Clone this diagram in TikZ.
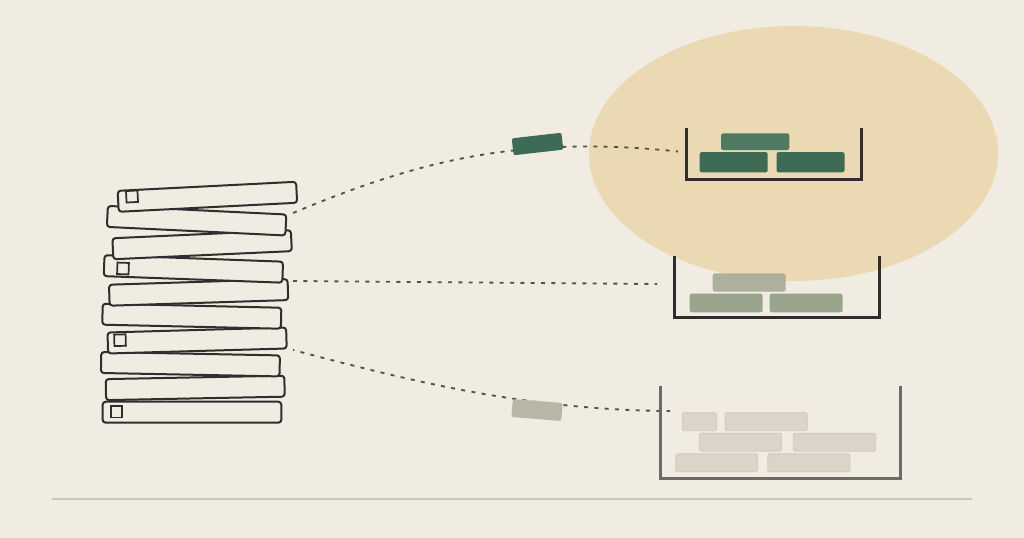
\documentclass[tikz,border=0pt]{standalone}
\usetikzlibrary{calc}
\definecolor{bg}{HTML}{F0ECE2}
\definecolor{sun}{HTML}{EBD9B4}
\definecolor{ink}{HTML}{2E2E2E}
\definecolor{dots}{HTML}{55524D}
\definecolor{gdark}{HTML}{3D6B55}
\definecolor{glight}{HTML}{4E7A62}
\definecolor{sagetop}{HTML}{ADB09C}
\definecolor{sage}{HTML}{9AA38B}
\definecolor{ghost}{HTML}{DAD5C9}
\definecolor{ghostline}{HTML}{D0CABD}
\definecolor{stone}{HTML}{B9B5A7}
\definecolor{wallgray}{HTML}{6B6A66}
\definecolor{rule}{HTML}{CBC6BA}
\tikzset{
  plank/.style={draw=ink, fill=bg, line width=1.5pt, rounded corners=2.25pt,
    minimum width=134pt, minimum height=15.75pt, inner sep=0pt, outer sep=0pt},
  tag/.style={draw=ink, line width=1.3pt, minimum size=8.6pt, inner sep=0pt},
  brick/.style={rounded corners=1.6pt, inner sep=0pt, outer sep=0pt},
  flow/.style={draw=dots, line width=1.4pt, dash pattern=on 3pt off 4.75pt},
  binwall/.style={draw=ink, line width=2.25pt},
}
\begin{document}
\begin{tikzpicture}[x=0.75pt,y=-0.75pt]
\fill[bg] (0,0) rectangle (1024,538);
\useasboundingbox (0,0) rectangle (1024,538);
% big circle
\fill[sun] (793.5,153.5) ellipse [x radius=204.5, y radius=127.5];
% baseline
\draw[rule, line width=1.1pt] (52,499) -- (972,499);

% stack of planks (bottom first)
\node[plank, rotate=0]    (p10) at (192,412.2) {};
\node[plank, rotate=1.1]  (p9)  at (195.2,387.9) {};
\node[plank, rotate=-1.1] (p8)  at (190.4,364.2) {};
\node[plank, rotate=1.6]  (p7)  at (197.1,340.5) {};
\node[plank, rotate=-1.3] (p6)  at (191.8,316.2) {};
\node[plank, rotate=1.8]  (p5)  at (198.6,292.4) {};
\node[plank, rotate=-2.1] (p4)  at (193.4,268.9) {};
\node[plank, rotate=2.6]  (p3)  at (202.1,244.7) {};
\node[plank, rotate=-2.75](p2)  at (196.6,220.7) {};
\node[plank, rotate=2.9]  (p1)  at (207.4,196.8) {};
\node[tag, rotate=2.9]  (t1)  at (132,196.5) {};
\node[tag, rotate=-2.1] (t4)  at (123,268.5) {};
\node[tag, rotate=1.6]  (t7)  at (120,340.2) {};
\node[tag, rotate=0]    (t10) at (116.5,411.8) {};

% connectors
\coordinate (s1) at (293,213);
\coordinate (e1) at (678,151.5);
\coordinate (s2) at (293,281);
\coordinate (e2) at (657,284);
\coordinate (s3) at (293,350);
\coordinate (e3) at (670,411);
\draw[flow] (s1) .. controls (420,160) and (520,135) .. (e1);
\draw[flow] (s2) -- (e2);
\draw[flow, dash phase=2pt] (s3) .. controls (400,378) and (520,410) .. (e3);

% bricks in transit
\node[brick, fill=gdark, minimum width=37.5pt, minimum height=12.75pt, rotate=6.5] (m1) at (537.5,144) {};
\node[brick, fill=stone, minimum width=37.5pt, minimum height=13.5pt, rotate=-4.5] (m3) at (537,410) {};

% bin 1 (highlighted)
\draw[binwall] (686.7,128.3) -- (686.7,180) -- (861.7,180) -- (861.7,128.3);
\node[brick, fill=glight, minimum width=51.2pt, minimum height=12.5pt] (a1) at (755.2,141.7) {};
\node[brick, fill=gdark, minimum width=51pt, minimum height=15.2pt] (a2) at (733.7,162.2) {};
\node[brick, fill=gdark, minimum width=51pt, minimum height=15.2pt] (a3) at (810.5,162.2) {};

% bin 2
\draw[binwall] (674,256) -- (674,317.7) -- (879,317.7) -- (879,256);
\node[brick, fill=sagetop, minimum width=54.7pt, minimum height=13.7pt] (b1) at (749.2,282.5) {};
\node[brick, fill=sage, minimum width=54.7pt, minimum height=14pt] (b2) at (726.2,303) {};
\node[brick, fill=sage, minimum width=54.7pt, minimum height=14pt] (b3) at (806.2,303) {};

% bin 3 (faded)
\draw[binwall, draw=wallgray] (660.7,386) -- (660.7,478.3) -- (900,478.3) -- (900,386);
\tikzset{ghostbrick/.style={brick, fill=ghost, draw=ghostline, line width=0.6pt, minimum height=13.5pt}}
\node[ghostbrick, minimum width=25.8pt] (c1) at (699.5,421.7) {};
\node[ghostbrick, minimum width=61.7pt] (c2) at (766.2,421.7) {};
\node[ghostbrick, minimum width=61.8pt] (c3) at (740.5,442.2) {};
\node[ghostbrick, minimum width=61.8pt] (c4) at (834.5,442.2) {};
\node[ghostbrick, minimum width=61.5pt] (c5) at (716.7,462.8) {};
\node[ghostbrick, minimum width=61.7pt] (c6) at (808.8,462.8) {};
\end{tikzpicture}
\end{document}
